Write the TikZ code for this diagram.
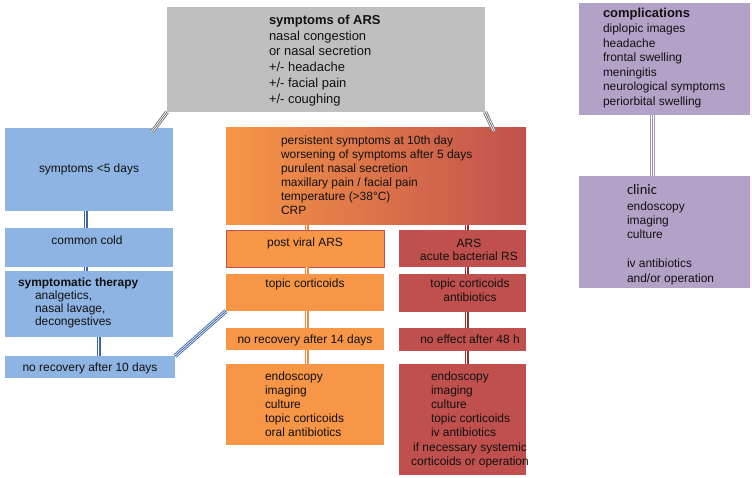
\documentclass[tikz,border=0pt]{standalone}
\usepackage{fontspec}
\setmainfont{Liberation Sans}
\newfontfamily\carl{Carlito}
\usetikzlibrary{calc}
\definecolor{greyb}{HTML}{BFBFBF}
\definecolor{greyl}{HTML}{7A7A7A}
\definecolor{purp}{HTML}{B3A2C7}
\definecolor{purpl}{HTML}{A592BF}
\definecolor{blueb}{HTML}{8EB4E3}
\definecolor{bluel}{HTML}{3D66AA}
\definecolor{orng}{HTML}{F79646}
\definecolor{orngl}{HTML}{F08A3A}
\definecolor{redb}{HTML}{C0504D}
\definecolor{redl}{HTML}{96302E}
\definecolor{textc}{HTML}{111111}
\newcommand\mybox[6]{\node[box,#6,minimum width={(#4-#2)*1bp},minimum height={(#5-#3)*1bp},anchor=north west] (#1) at (#2,#3) {};}
\newcommand\fsz[1]{\fontsize{12}{#1}\selectfont}
\newcommand\st{\rule{0pt}{10bp}}
\begin{document}
\begin{tikzpicture}[x=1bp,y=-1bp,
 box/.style={inner sep=0pt,outer sep=0pt,draw=none},
 txt/.style={inner sep=0pt,outer sep=0pt,align=left,anchor=north west,text=textc},
 ctxt/.style={inner sep=0pt,outer sep=0pt,align=center,anchor=north,text=textc},
 tl/.style={line width=4.2bp,draw=#1,postaction={draw=white,line width=2.4bp},postaction={draw=#1,line width=0.9bp}}]
\fill[white] (0,0) rectangle (752,478);
\useasboundingbox (0,0) rectangle (752,478);
% boxes
\mybox{grey}{167}{7}{485}{112}{fill=greyb}
\mybox{comp}{579}{3}{750}{115}{fill=purp}
\mybox{clinic}{579}{176}{750}{288}{fill=purp}
\mybox{sym5}{5}{128}{173}{211}{fill=blueb}
\mybox{cold}{5}{228}{173}{267}{fill=blueb}
\mybox{symth}{5}{271}{173}{337}{fill=blueb}
\mybox{rec10}{5}{356}{175}{378}{fill=blueb}
\mybox{grad}{226}{128}{526}{225}{left color=orng,right color=redb}
\mybox{pv}{226}{230}{384}{267}{fill=orng,draw=redb,line width=0.8bp}
\mybox{topo}{226}{274}{384}{311}{fill=orng}
\mybox{rec14}{226}{328}{384}{350}{fill=orng}
\mybox{endo1}{226}{364}{384}{445}{fill=orng}
\mybox{ars}{399}{230}{526}{267}{fill=redb}
\mybox{topr}{399}{274}{526}{312}{fill=redb}
\mybox{eff48}{399}{328}{526}{351}{fill=redb}
\mybox{endo2}{399}{364}{526}{475}{fill=redb}
% connectors
\draw[tl=greyl] (grey.south west) -- ($(sym5.north east)+(-21,4)$);
\draw[tl=greyl] (grey.south east) -- ($(grad.north east)+(-32,3)$);
\draw[tl=purpl] ([xshift=-12bp]comp.south) -- ([xshift=-12bp]clinic.north);
\draw[tl=bluel] ([xshift=-3bp]sym5.south) -- ([xshift=-3bp]cold.north);
\draw[tl=bluel] ([xshift=-3bp]cold.south) -- ([xshift=-3bp]symth.north);
\draw[tl=bluel] ([xshift=10bp]symth.south) -- ([xshift=10bp]symth.south |- rec10.north);
\draw[tl=bluel] (rec10.north east) -- (topo.south west);
\draw[tl=orngl] ([xshift=2bp]pv.north) -- ([xshift=2bp]pv.north |- grad.south);
\draw[tl=orngl] ([xshift=2bp]pv.south) -- ([xshift=2bp]topo.north);
\draw[tl=orngl] ([xshift=2bp]topo.south) -- ([xshift=2bp]rec14.north);
\draw[tl=orngl] ([xshift=2bp]rec14.south) -- ([xshift=2bp]endo1.north);
\draw[tl=redl] ([xshift=4.5bp]ars.north) -- ([xshift=4.5bp]ars.north |- grad.south);
\draw[tl=redl] ([xshift=4.5bp]ars.south) -- ([xshift=4.5bp]topr.north);
\draw[tl=redl] ([xshift=4.5bp]topr.south) -- ([xshift=4.5bp]eff48.north);
\draw[tl=redl] ([xshift=4.5bp]eff48.south) -- ([xshift=4.5bp]endo2.north);
% texts
\node[txt,font=\fontsize{13}{15.8}\selectfont] (greyt) at (269,14.5) {\st\textbf{symptoms of ARS}\\nasal congestion\\or nasal secretion\\+/- headache\\+/- facial pain\\+/- coughing};
\node[txt,font=\fsz{14.6}] (compt) at (603,8) {\st{\fontsize{13}{14.6}\selectfont\textbf{complications}}\\diplopic images\\headache\\frontal swelling\\meningitis\\neurological symptoms\\periorbital swelling};
\node[txt,font=\carl\fontsize{14.6}{16}\selectfont] (clinict) at (627,183) {\rule{0pt}{12bp}clinic};
\node[txt,font=\fsz{14.5}] (clinicl) at (627,200) {\st endoscopy\\imaging\\culture\\[14.5bp]iv antibiotics\\and/or operation};
\node[ctxt,font=\fsz{14}] (sym5t) at (89,163) {\st symptoms <5 days};
\node[ctxt,font=\fsz{14}] (coldt) at (87,235) {\st common cold};
\node[txt,font=\fsz{13.3}] (symtht) at (18,276) {\st\textbf{symptomatic therapy}\\\hspace*{17bp}analgetics,\\\hspace*{17bp}nasal lavage,\\\hspace*{17bp}decongestives};
\node[ctxt,font=\fsz{14}] (rec10t) at (90,361) {\st no recovery after 10 days};
\node[txt,font=\fsz{14}] (gradt) at (281,135) {\st persistent symptoms at 10th day\\worsening of symptoms after 5 days\\purulent nasal secretion\\maxillary pain / facial pain\\temperature (>38°C)\\CRP};
\node[ctxt,font=\fsz{14}] (pvt) at (305,237) {\st post viral ARS};
\node[ctxt,font=\fsz{13.3}] (arst) at (469,237) {\st ARS\\acute bacterial RS};
\node[ctxt,font=\fsz{14}] (topot) at (305,278) {\st topic corticoids};
\node[ctxt,font=\fsz{14}] (toprt) at (470,278) {\st topic corticoids\\antibiotics};
\node[ctxt,font=\fsz{14}] (rec14t) at (305,333) {\st no recovery after 14 days};
\node[ctxt,font=\fsz{14}] (eff48t) at (470,333) {\st no effect after 48 h};
\node[txt,font=\fsz{14.3}] (endo1t) at (265,370) {\st endoscopy\\imaging\\culture\\topic corticoids\\oral antibiotics};
\node[txt,font=\fsz{14.3}] (endo2t) at (431,370) {\st endoscopy\\imaging\\culture\\topic corticoids\\iv antibiotics};
\node[ctxt,font=\fsz{14.5}] (endo2c) at (470,441.5) {\st if necessary systemic\\corticoids or operation};
\end{tikzpicture}
\end{document}
